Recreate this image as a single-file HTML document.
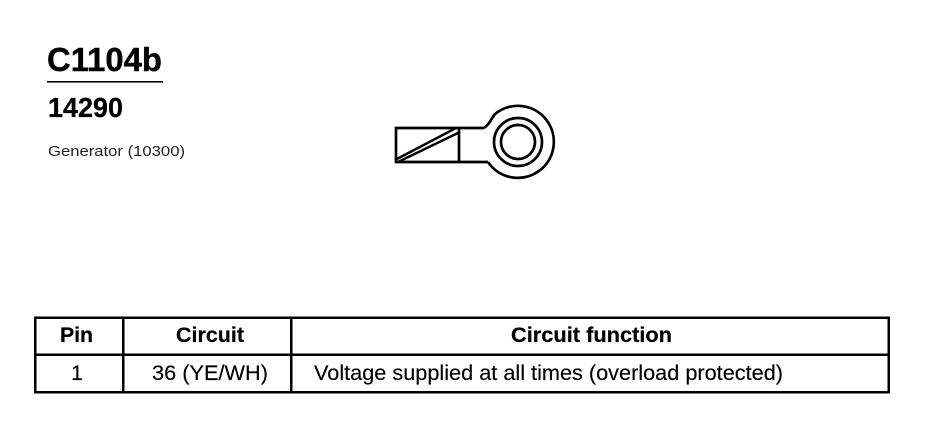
<!DOCTYPE html>
<html>
<head>
<meta charset="utf-8">
<style>
html,body{margin:0;padding:0;background:#fff;width:926px;height:432px;overflow:hidden}
svg{display:block}
text{font-family:"Liberation Sans",sans-serif;fill:#000}
</style>
</head>
<body>
<svg width="926" height="432" viewBox="0 0 926 432" xmlns="http://www.w3.org/2000/svg">
  <text x="47" y="71" font-size="33" font-weight="bold" stroke="#000" stroke-width="0.4" textLength="115" lengthAdjust="spacingAndGlyphs">C1104b</text>
  <rect x="47" y="81" width="116" height="1.6" fill="#000"/>
  <text x="48" y="117" font-size="28" font-weight="bold" stroke="#000" stroke-width="0.3" textLength="75" lengthAdjust="spacingAndGlyphs">14290</text>
  <text x="48" y="156" font-size="14.500" style="fill:#222" textLength="137" lengthAdjust="spacingAndGlyphs">Generator (10300)</text>

  <g fill="none" stroke="#000" stroke-width="2.700">
    <path d="M484 128 H396 V162 H488"/>
    <path d="M484 128 C490 124 491 119 495 114 A36 36 0 1 1 488 162"/>
    <path d="M459 128 V162"/>
    <path d="M395 160 L456 128" stroke-width="2.400"/>
    <path d="M398 162 L460 132" stroke-width="2.400"/>
    <circle cx="518" cy="142" r="24"/>
    <circle cx="518" cy="142" r="17"/>
  </g>

  <g fill="#000">
    <rect x="34" y="316.500" width="856" height="2.500"/>
    <rect x="34" y="353.500" width="856" height="2.500"/>
    <rect x="34" y="391" width="856" height="2.500"/>
    <rect x="34" y="316.500" width="2.500" height="77"/>
    <rect x="122" y="316.500" width="2.500" height="77"/>
    <rect x="290" y="316.500" width="2.500" height="77"/>
    <rect x="887.500" y="316.500" width="2.500" height="77"/>
  </g>

  <g font-size="21" font-weight="bold" stroke="#000" stroke-width="0.2">
    <text x="60" y="342" textLength="33" lengthAdjust="spacingAndGlyphs">Pin</text>
    <text x="176" y="342" textLength="68" lengthAdjust="spacingAndGlyphs">Circuit</text>
    <text x="511" y="342" textLength="161" lengthAdjust="spacingAndGlyphs">Circuit function</text>
  </g>
  <g font-size="21" stroke="#000" stroke-width="0.15">
    <text x="77" y="380" text-anchor="middle">1</text>
    <text x="152" y="380" textLength="116" lengthAdjust="spacingAndGlyphs">36 (YE/WH)</text>
    <text x="314" y="380" textLength="469" lengthAdjust="spacingAndGlyphs">Voltage supplied at all times (overload protected)</text>
  </g>
</svg>
</body>
</html>
